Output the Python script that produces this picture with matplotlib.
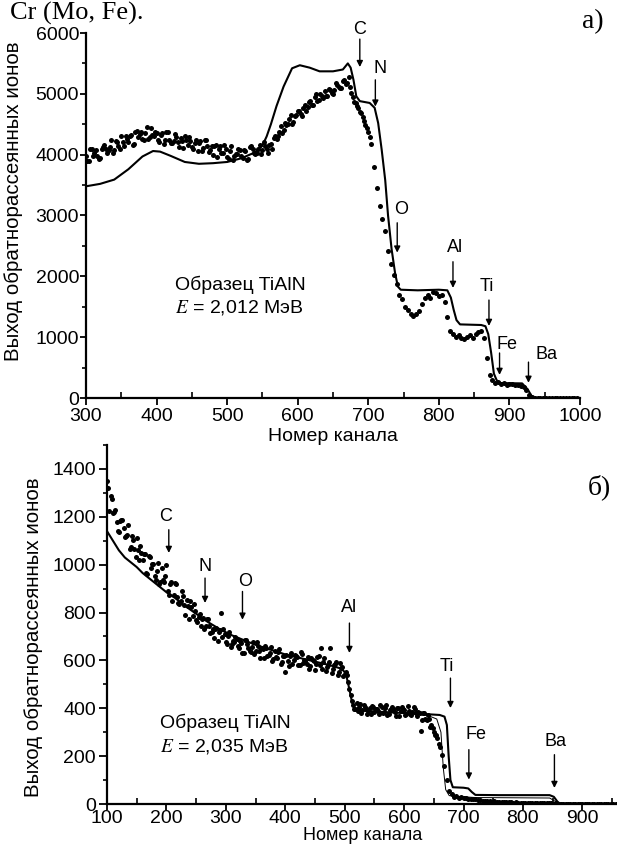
import matplotlib
matplotlib.use('Agg')
import matplotlib.pyplot as plt
from matplotlib.ticker import MultipleLocator
import numpy as np

plt.rcParams['font.family'] = ['Liberation Sans', 'DejaVu Sans']
plt.rcParams['mathtext.fontset'] = 'stix'

# ---- panel a): E = 2,012 MeV ----
# measured yield, every 4th channel from 300
EXP_A = [
    3985, 3890, 4100, 4020, 3985, 3940, 4125, 4100, 4080, 4240,
    4075, 4215, 4090, 4210, 4305, 4215, 4325, 4170, 4390, 4345,
    4265, 4350, 4255, 4440, 4310, 4355, 4200, 4355, 4245, 4370,
    4195, 4230, 4295, 4120, 4230, 4300, 4155, 4225, 4090, 4235,
    4195, 4060, 4240, 4140, 4075, 4000, 4155, 4090, 4030, 4160,
    3965, 4065, 3920, 4010, 4085, 3975, 4075, 3910, 4130, 4085,
    4005, 4100, 4015, 4210, 4100, 4165, 4100, 4300, 4305, 4470,
    4400, 4485, 4590, 4500, 4630, 4725, 4670, 4765, 4715, 4870,
    4820, 4940, 4880, 4990, 4930, 4960, 5080, 5010, 5060, 5150,
    5090, 5210, 5160, 5270, 5020, 4870, 4800, 4700, 4620, 4480,
    4380, 4180, 3800, 3450, 3150, 2950, 2750, 2420, 2200, 2030,
    1880, 1700, 1620, 1500, 1440, 1380, 1350, 1380, 1430, 1540,
    1640, 1690, 1650, 1740, 1720, 1680, 1700, 1580, 1330, 1100,
    1060, 1010, 1040, 990, 970, 1010, 1030, 990, 1050, 1080,
    1100, 980, 660, 380, 290, 240, 255, 230, 240, 215,
    235, 225, 215, 220, 205, 185, 130, 50, 12, 5,
    0, 8, 2, 0, 6, 0, 4, 0, 3, 0,
    5, 0, 2, 0, 0,
]
# measured yield, every 4th channel from 302 (second half of the points)
EXP_A2 = [
    3900, 4090, 3985, 4075, 3930, 4090, 4160, 4035, 4120, 4030,
    4220, 4145, 4310, 4145, 4260, 4305, 4160, 4370, 4295, 4370,
    4235, 4450, 4285, 4325, 4380, 4240, 4330, 4175, 4375, 4245,
    4190, 4345, 4215, 4280, 4105, 4240, 4285, 4130, 4185, 4065,
    4220, 4110, 4245, 4050, 4135, 4145, 3960, 4135, 4035, 4090,
    3935, 4140, 3970, 4010, 4075, 3950, 4060, 3925, 4145, 4035,
    4020, 4155, 4080, 4145, 4035, 4170, 4275, 4250, 4375, 4355,
    4525, 4500, 4645, 4545, 4655, 4710, 4630, 4815, 4790, 4880,
    4810, 4995, 4905, 4965, 5040, 4965, 5070, 4995, 5170, 5110,
    5100, 5230, 5180, 5120, 4940, 4850, 4760, 4680, 4560, 4440,
    4290,
]
SIM_A_X = [300, 320, 340, 360, 380, 395, 405, 420, 440, 460, 480, 500, 520,
           540, 550, 556, 562, 570, 580, 592, 603, 617, 631, 650, 664, 671,
           675, 679, 683, 688, 702, 709, 714, 719, 724, 728, 733, 738, 742,
           746, 770, 800, 812, 817, 821, 825, 830, 860, 866, 870, 874, 878,
           882, 888, 918, 926, 931, 936, 1000]
SIM_A_Y = [3480, 3520, 3590, 3760, 3970, 4060, 4050, 3980, 3880, 3850, 3860,
           3880, 3940, 4040, 4150, 4300, 4500, 4800, 5120, 5420, 5470, 5430,
           5370, 5370, 5400, 5500, 5430, 5230, 4960, 4880, 4850, 4770, 4520,
           4080, 3580, 3000, 2450, 2050, 1830, 1780, 1770, 1780, 1770, 1650,
           1450, 1280, 1210, 1200, 1180, 1050, 750, 400, 290, 245, 240, 140,
           40, 0, 0]
# element, arrow x, arrow tail y, arrow tip y, label x, label y
EDGES_A = [
    ('C', 688, 5900, 5440, 688, 6053),
    ('N', 710, 5230, 4790, 716, 5422),
    ('O', 741, 2880, 2390, 747, 3092),
    ('Al', 820, 2240, 1810, 823, 2467),
    ('Ti', 871, 1610, 1185, 868, 1830),
    ('Fe', 886, 740, 380, 896, 872),
    ('Ba', 927, 590, 250, 952, 707),
]

# ---- panel b): E = 2,035 MeV ----
# measured yield, every 4th channel from 100
EXP_B = [
    1350, 1224, 1275, 1219, 1177, 1135, 1187, 1154, 1121, 1165,
    1073, 1105, 1033, 1060, 1079, 1021, 1044, 960, 1034, 1001,
    953, 973, 921, 987, 928, 1000, 872, 927, 875, 918,
    840, 847, 867, 789, 828, 850, 786, 808, 760, 792,
    774, 732, 774, 742, 719, 694, 735, 717, 800, 733,
    677, 702, 658, 680, 696, 661, 682, 631, 685, 667,
    640, 658, 628, 676, 640, 652, 610, 652, 622, 655,
    607, 616, 635, 587, 617, 550, 598, 618, 583, 624,
    614, 579, 628, 602, 585, 565, 611, 597, 583, 620,
    650, 595, 554, 579, 652, 566, 587, 537, 591, 574,
    545, 541, 480, 430, 398, 420, 405, 382, 415, 398,
    387, 375, 406, 398, 389, 415, 380, 400, 373, 391,
    404, 384, 400, 367, 405, 394, 377, 390, 371, 404,
    380, 386, 303, 380, 354, 370, 323, 316, 290, 275,
    240, 205, 160, 100, 55, 40, 30, 32, 27, 29,
    24, 25, 21, 22, 19, 20, 16, 17, 14, 13,
    12, 13, 10, 11, 9, 10, 8, 9, 7, 8,
    7, 6, 7, 6, 5, 6, 5, 6, 4, 5,
    4, 5, 3, 5, 3, 4, 3, 4, 2, 3,
    2, 1, 2, 1, 0, 1, 0, 1, 0, 1,
    0, 0, 1, 0, 0, 1, 0, 0, 1, 0,
    0, 1, 0, 0, 0,
]
# measured yield, every 4th channel from 102 (second half of the points)
EXP_B2 = [
    1320, 1287, 1216, 1227, 1142, 1184, 1188, 1115, 1126, 1067,
    1120, 1066, 1111, 1021, 1050, 1046, 966, 1036, 988, 1003,
    934, 1008, 929, 937, 954, 890, 920, 849, 923, 863,
    834, 890, 830, 851, 774, 823, 835, 767, 782, 743,
    779, 743, 773, 714, 733, 732, 681, 729, 699, 712,
    668, 720, 670, 677, 690, 650, 674, 632, 686, 650,
    635, 677, 641, 659, 611, 647, 659, 617, 632, 599,
    641, 612, 648, 594, 619, 623, 576, 629, 603, 620,
    580, 635, 588, 598, 614, 576, 601, 560, 615, 580,
    566, 609, 574, 593, 546, 582, 595, 553, 569, 535,
    552, 510, 455, 415, 395, 388, 417, 394, 407, 376,
    401, 411, 384, 396, 375, 405, 386, 412, 377, 395,
    398, 368, 403, 387, 398, 372, 409, 378, 385, 395,
    368, 382, 351, 382, 352, 354, 330, 300, 290, 250,
]
SIM_B_X = [100, 110, 120, 130, 140, 150, 160, 175, 190, 200, 215, 230, 250,
           270, 290, 310, 330, 350, 375, 400, 425, 450, 475, 495, 502, 507,
           512, 517, 530, 560, 600, 640, 660, 668, 672, 675, 678, 682, 700,
           708, 714, 720, 760, 800, 845, 852, 858, 862, 960]
SIM_B_Y = [1140, 1100, 1060, 1030, 1010, 990, 965, 935, 905, 885, 860, 830,
           795, 760, 730, 705, 685, 665, 645, 625, 610, 595, 580, 565, 545,
           490, 430, 400, 390, 385, 380, 375, 372, 365, 330, 200, 100, 70,
           68, 65, 50, 38, 37, 37, 37, 30, 10, 2, 0]
SIM2_B_X = [600, 640, 655, 662, 666, 670, 676, 700, 720, 845, 855, 862, 960]
SIM2_B_Y = [380, 370, 355, 300, 150, 60, 35, 30, 27, 25, 10, 0, 0]
EDGES_B = [
    ('C', 204, 1146, 1049, 199, 1202),
    ('N', 265, 944, 840, 265, 993),
    ('O', 328, 888, 770, 332, 930),
    ('Al', 508, 756, 631, 508, 819),
    ('Ti', 678, 526, 401, 672, 575),
    ('Fe', 709, 227, 102, 721, 290),
    ('Ba', 853, 206, 67, 854, 262),
]

CHAN_A = 300 + 4 * np.arange(len(EXP_A))
CHAN_A2 = 302 + 4 * np.arange(len(EXP_A2))
CHAN_B = 100 + 4 * np.arange(len(EXP_B))
CHAN_B2 = 102 + 4 * np.arange(len(EXP_B2))

YLABEL = 'Выход обратнорассеянных ионов'
XLABEL = 'Номер канала'

W, H = 617, 846
fig = plt.figure(figsize=(W / 100, H / 100), dpi=100)


def px_box(x0, y0, x1, y1):
    return [x0 / W, 1 - y1 / H, (x1 - x0) / W, (y1 - y0) / H]


def style_axes(ax, xmaj, ymaj, ylen, ypad):
    for side in ('top', 'right'):
        ax.spines[side].set_visible(False)
    for side in ('left', 'bottom'):
        ax.spines[side].set_linewidth(1.6)
    ax.xaxis.set_major_locator(MultipleLocator(xmaj))
    ax.xaxis.set_minor_locator(MultipleLocator(xmaj / 2))
    ax.yaxis.set_major_locator(MultipleLocator(ymaj))
    ax.yaxis.set_minor_locator(MultipleLocator(ymaj / 2))
    ax.tick_params(axis='x', which='major', direction='out', length=5,
                   width=1.3, labelsize=14, pad=2)
    ax.tick_params(axis='x', which='minor', direction='in', length=4, width=1.2)
    ax.tick_params(axis='y', which='major', direction='out', length=ylen,
                   width=1.3, labelsize=14, pad=ypad)
    ax.tick_params(axis='y', which='minor', direction='out', length=3, width=1.2)


def draw_edges(ax, edges):
    for name, x, tail, tip, lx, ly in edges:
        ax.annotate('', xy=(x, tip), xytext=(x, tail),
                    arrowprops=dict(arrowstyle='-|>', lw=1.0, color='black',
                                    mutation_scale=9, shrinkA=0, shrinkB=0),
                    annotation_clip=False)
        ax.text(lx, ly, name, ha='center', va='center', fontsize=13,
                clip_on=False)


def draw_points(ax, xs, ys):
    ax.plot(xs, ys, 'o', ms=3.6, color='black', mew=0)


# panel a)
ax1 = fig.add_axes(px_box(86, 33, 580, 398))
ax1.plot(SIM_A_X, SIM_A_Y, color='black', lw=1.5)
draw_points(ax1, CHAN_A, EXP_A)
draw_points(ax1, CHAN_A2, EXP_A2)
ax1.set_xlim(300, 1000)
ax1.set_ylim(0, 6000)
style_axes(ax1, 100, 1000, 4, 1)
ax1.set_xlabel(XLABEL, fontsize=14, labelpad=2)
ax1.set_ylabel(YLABEL, fontsize=14.8)
ax1.yaxis.set_label_coords(-0.128, 0.538)
draw_edges(ax1, EDGES_A)
ax1.text(426, 1858, 'Образец TiAlN', fontsize=14, va='center')
ax1.text(426, 1480, '$E$ = 2,012 МэВ', fontsize=14, va='center')

# panel b)
ax2 = fig.add_axes(px_box(107, 445, 618, 804))
ax2.plot(SIM_B_X, SIM_B_Y, color='black', lw=1.5)
ax2.plot(SIM2_B_X, SIM2_B_Y, color='black', lw=0.7)
draw_points(ax2, CHAN_B, EXP_B)
draw_points(ax2, CHAN_B2, EXP_B2)
ax2.set_xlim(100, 960)
ax2.set_ylim(0, 1500)
style_axes(ax2, 100, 200, 6, 2)
ax2.tick_params(axis='x', which='major', pad=0, length=4)
ax2.set_yticks([0, 200, 400, 600, 800, 1000, 1200, 1400])
ax2.set_xlabel(XLABEL, fontsize=13, labelpad=0)
ax2.set_ylabel(YLABEL, fontsize=14.8)
ax2.yaxis.set_label_coords(-0.125, 0.465)
draw_edges(ax2, EDGES_B)
ax2.text(190, 340, 'Образец TiAlN', fontsize=14, va='center')
ax2.text(190, 240, '$E$ = 2,035 МэВ', fontsize=14, va='center')

serif = ['Liberation Serif', 'DejaVu Serif']
fig.text(10 / W, 1 - 20 / H, 'Cr (Mo, Fe).', family=serif, fontsize=19,
         va='baseline')
fig.text(582 / W, 1 - 28 / H, 'a)', family=serif, fontsize=20, va='baseline')
fig.text(588 / W, 1 - 494 / H, 'б)', family=serif, fontsize=20, va='baseline')

fig.savefig('out.png', dpi=100)
